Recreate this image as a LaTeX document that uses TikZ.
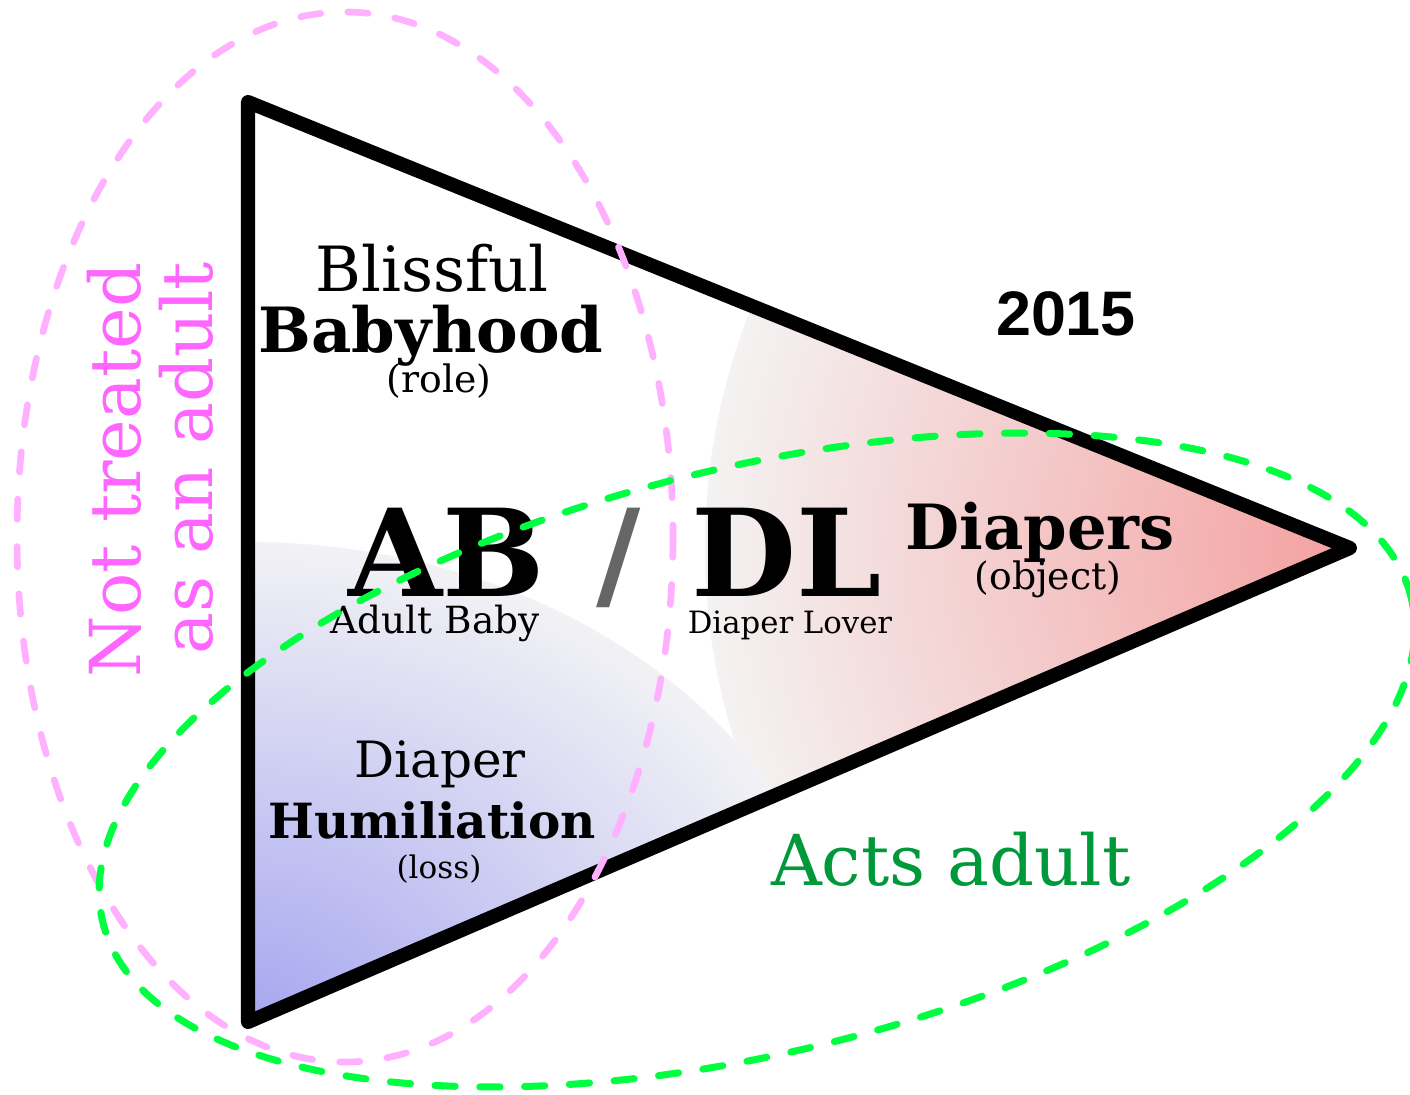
\documentclass[tikz,border=0pt]{standalone}
\usepackage{fontspec}
\setmainfont{DejaVu Serif}
\newfontfamily\arialfont{Liberation Sans}
\definecolor{redC}{RGB}{244,160,160}
\definecolor{redE}{RGB}{244,242,242}
\definecolor{blueC}{RGB}{166,166,240}
\definecolor{blueE}{RGB}{242,242,245}
\definecolor{pinkL}{RGB}{255,176,255}
\definecolor{pinkT}{RGB}{255,102,255}
\definecolor{greenL}{RGB}{0,255,64}
\definecolor{greenT}{RGB}{0,153,58}
\definecolor{slashC}{RGB}{102,102,102}
\pgfdeclareradialshading{redsh}{\pgfpoint{0bp}{0bp}}{color(0bp)=(redC); color(25bp)=(redE); color(50bp)=(redE)}
\pgfdeclareradialshading{bluesh}{\pgfpoint{0bp}{0bp}}{color(0bp)=(blueC); color(25bp)=(blueE); color(50bp)=(blueE)}
\newcommand{\fsz}[1]{\fontsize{#1}{#1}\selectfont}
\tikzset{
  lbl/.style={inner sep=0pt, outer sep=0pt, anchor=base},
  pinkdash/.style={draw=pinkL, line width=3.8pt, line cap=round, dash pattern=on 11.5pt off 15.5pt},
  greendash/.style={draw=greenL, line width=4pt, line cap=round, dash pattern=on 11.5pt off 14pt},
  tri/.style={draw=black, line width=8pt, line join=round}
}
\begin{document}
\begin{tikzpicture}[x=0.02cm,y=-0.02cm]
\useasboundingbox (0,0) rectangle (1410,1095);
\coordinate (tl) at (248,102);
\coordinate (tip) at (1350,548);
\coordinate (bl) at (248,1022);
% gradients
\begin{scope}
  \clip (tl) -- (tip) -- (bl) -- cycle;
  \shade[shading=redsh] (tip) circle (645);
  \shade[shading=bluesh] (bl) ellipse [x radius=600, y radius=480];
\end{scope}
\draw[tri] (tl) -- (tip) -- (bl) -- cycle;
% texts
\node[lbl] (bliss) at (432,291) {\fsz{35.5}Blissful};
\node[lbl] (baby) at (431,352) {\fsz{35.5}\bfseries Babyhood};
\node[lbl] (role) at (439,392) {\fsz{21.5}(role)};
\node[lbl] (ab) at (447,596) {\fsz{69}\bfseries AB};
\node[lbl, text=slashC] (slash) at (619,596) {\fsz{69}\bfseries /};
\node[lbl] (dl) at (787,596) {\fsz{69}\bfseries DL};
\node[lbl] (abf) at (435,633) {\fsz{21.3}Adult Baby};
\node[lbl] (dlf) at (790,633) {\fsz{17.5}Diaper Lover};
\node[lbl] (diapers) at (1040,549) {\fsz{35.5}\bfseries Diapers};
\node[lbl] (object) at (1048,589) {\fsz{21.5}(object)};
\node[lbl] (year) at (1066,335) {\arialfont\fsz{35.8}\bfseries 2015};
\node[lbl] (diaper) at (440,777) {\fsz{28.5}Diaper};
\node[lbl] (humil) at (432,838) {\fsz{27.6}\bfseries Humiliation};
\node[lbl] (loss) at (439,878) {\fsz{17.7}(loss)};
\node[lbl, text=greenT] (acts) at (951,885) {\fsz{40}Acts adult};
\node[lbl, text=pinkT, rotate=90] (nt1) at (140,470) {\fsz{40}Not treated};
\node[lbl, text=pinkT, rotate=90] (nt2) at (212,458) {\fsz{40}as an adult};
% ellipses
\draw[pinkdash] (345,537) ellipse [x radius=328, y radius=525];
\draw[greendash, rotate around={14:(757,760)}] (757,760) ellipse [x radius=674, y radius=292];
\end{tikzpicture}
\end{document}
